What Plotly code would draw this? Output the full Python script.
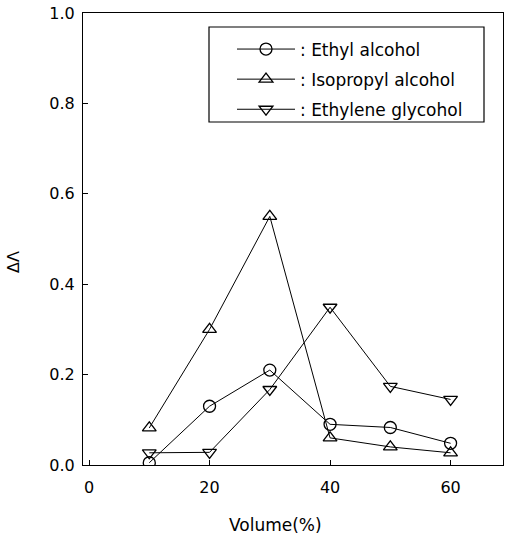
import plotly.graph_objects as go

# ---- data ----
volume = [10, 20, 30, 40, 50, 60]
ethyl_alcohol = [0.005, 0.13, 0.21, 0.09, 0.083, 0.048]
isopropyl_alcohol = [0.082, 0.30, 0.55, 0.06, 0.04, 0.027]
ethylene_glycohol = [0.027, 0.028, 0.167, 0.349, 0.174, 0.145]

series_names = [": Ethyl alcohol", ": Isopropyl alcohol", ": Ethylene glycohol"]
series_values = [ethyl_alcohol, isopropyl_alcohol, ethylene_glycohol]
series_symbols = ["circle-open", "triangle-up-open", "triangle-down-open"]

x_ticks = [0, 20, 40, 60]
y_ticks = [0.0, 0.2, 0.4, 0.6, 0.8, 1.0]

# ---- geometry ----
W, H = 505, 536
ML, MR, MT, MB = 83, 2, 13, 71
PW, PH = W - ML - MR, H - MT - MB


def px(xp):
    return (xp - ML) / PW


def py(yp):
    return (H - MB - yp) / PH


FONT = "DejaVu Sans"

fig = go.Figure()
for name, vals, sym in zip(series_names, series_values, series_symbols):
    fig.add_trace(go.Scatter(
        x=volume, y=vals, name=name, legendgroup=name,
        mode="lines+markers",
        line=dict(color="black", width=1),
        marker=dict(symbol=sym, size=12, color="black", line=dict(width=1.3, color="black")),
    ))

axis_common = dict(
    showline=True, linecolor="black", linewidth=1.2, mirror=True,
    ticks="inside", ticklen=5, tickcolor="black", tickwidth=1,
    showgrid=False, zeroline=False,
    tickfont=dict(family=FONT, size=16, color="black"),
)

fig.update_xaxes(range=[-1.0, 68.7], tickvals=x_ticks, ticktext=[str(v) for v in x_ticks],
                 ticklabelstandoff=8, **axis_common)
fig.update_yaxes(range=[0, 1.0], tickvals=y_ticks, ticktext=[f"{v:.1f}" for v in y_ticks],
                 ticklabelstandoff=4, **axis_common)

# legend frame
fig.add_shape(type="rect", xref="paper", yref="paper",
              x0=px(209), x1=px(484), y0=py(122), y1=py(27),
              line=dict(color="black", width=1.2), fillcolor="rgba(0,0,0,0)")

fig.update_layout(
    width=W, height=H,
    margin=dict(l=ML, r=MR, t=MT, b=MB),
    paper_bgcolor="white", plot_bgcolor="white",
    showlegend=True,
    legend=dict(
        x=px(232), y=py(31.5), xanchor="left", yanchor="top",
        bgcolor="rgba(0,0,0,0)", borderwidth=0,
        font=dict(family=FONT, size=17, color="black"),
        itemwidth=58, traceorder="grouped", tracegroupgap=5,
    ),
    annotations=[
        dict(text="Volume(%)", xref="paper", yref="paper", x=px(275.5), y=py(525),
             showarrow=False, xanchor="center", yanchor="middle",
             font=dict(family=FONT, size=17, color="black")),
        dict(text="ΔΛ", xref="paper", yref="paper", x=px(13), y=py(262),
             showarrow=False, xanchor="center", yanchor="middle", textangle=-90,
             font=dict(family=FONT, size=16, color="black")),
    ],
)

fig.write_html("out.html")
